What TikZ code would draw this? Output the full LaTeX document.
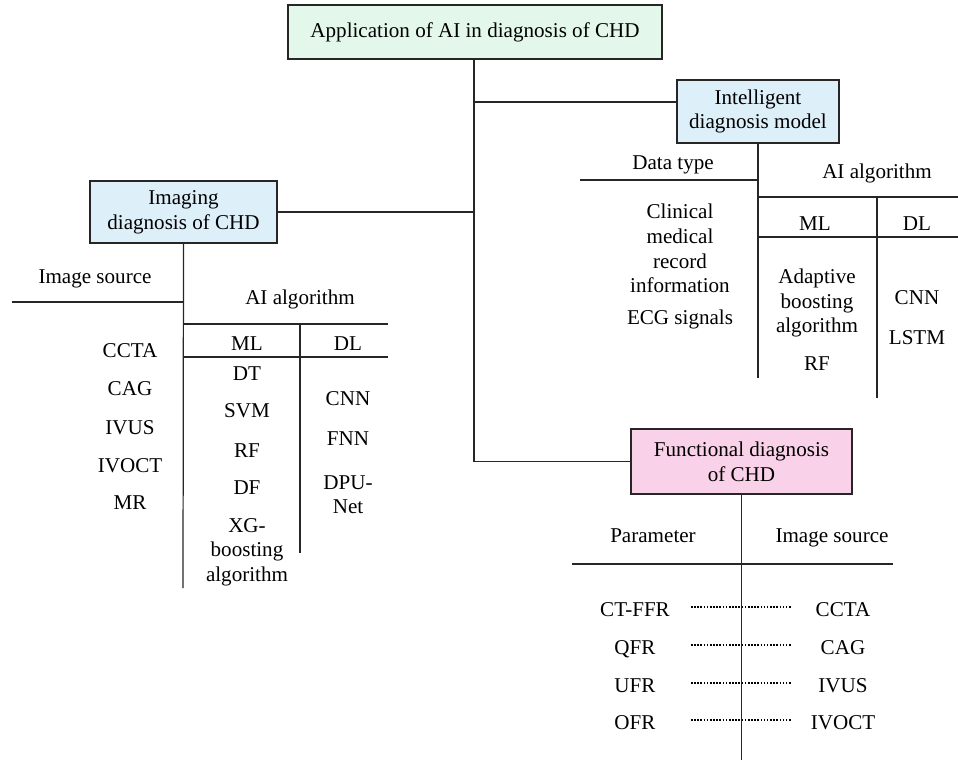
\documentclass[tikz,border=0pt]{standalone}
\usepackage{fontspec}
\setmainfont{Liberation Serif}
\usepackage{tikz}
\definecolor{boxgreen}{HTML}{E3F8EA}
\definecolor{boxblue}{HTML}{DDEFF9}
\definecolor{boxpink}{HTML}{F9D1E8}
\begin{document}
\begin{tikzpicture}[
  x=0.02cm, y=-0.02cm,
  font=\fontsize{12}{14}\selectfont,
  box/.style={draw=black!85, line width=0.7pt, align=center, inner sep=2pt},
  lbl/.style={inner sep=0pt, text height=8pt, text depth=0pt},
  mlbl/.style={inner sep=0pt, align=center},
  ln/.style={draw=black!85, line width=0.7pt},
  dots/.style={line width=1pt, dash pattern=on 0.9pt off 0.9pt}
]
\useasboundingbox (0,0) rectangle (958,761);
% boxes
\node[box, fill=boxgreen, minimum width=7.48cm, minimum height=1.08cm] (app) at (475,32) {Application of AI in diagnosis of CHD};
\node[box, fill=boxblue, minimum width=3.24cm, minimum height=1.26cm] (intel) at (758,111.5) {Intelligent\\diagnosis model};
\node[box, fill=boxblue, minimum width=3.74cm, minimum height=1.24cm] (img) at (183.5,212) {Imaging\\diagnosis of CHD};
\node[box, fill=boxpink, minimum width=4.42cm, minimum height=1.3cm] (func) at (741.5,461.5) {Functional diagnosis\\of CHD};
% tree
\coordinate (j1) at (474,102);
\draw[ln] (app.south -| j1) |- (func.west);
\draw[ln] (j1) -- (j1 -| intel.west);
\draw[ln] (img.east) -- (img.east -| j1);

% imaging diagnosis
\coordinate (imgend) at (183,588);
\draw[ln] (img.south) -- (imgend);
\node[lbl] (imgsrc) at (95,276) {Image source};
\node[lbl] (imgai) at (300,297) {AI algorithm};
\draw[ln] (12,302) -- (183,302);
\draw[ln] (183,324) -- (388,324);
\draw[ln] (300,324) -- (300,553);
\draw[ln] (183,357) -- (388,357);
\node[lbl] (imgml) at (247,343) {ML};
\node[lbl] (imgdl) at (348,343) {DL};
\foreach \t/\y [count=\i] in {CCTA/350, CAG/388, IVUS/427, IVOCT/465, MR/502}
  \node[lbl] (isrc\i) at (130,\y) {\t};
\foreach \t/\y [count=\i] in {DT/373, SVM/410, RF/450, DF/487}
  \node[lbl] (iml\i) at (247,\y) {\t};
\node[mlbl] (iml5) at (247,552) {XG-\\boosting\\algorithm};
\node[lbl] (idl1) at (348,398) {CNN};
\node[lbl] (idl2) at (348,438) {FNN};
\node[mlbl] (idl3) at (348,494.5) {DPU-\\Net};

% intelligent diagnosis model
\coordinate (intelend) at (758,378);
\draw[ln] (intel.south) -- (intelend);
\node[lbl] (dtype) at (673,162) {Data type};
\node[lbl] (intai) at (877,171) {AI algorithm};
\draw[ln] (580,180) -- (758,180);
\draw[ln] (758,197) -- (958,197);
\draw[ln] (877,197) -- (877,398);
\draw[ln] (758,237) -- (958,237);
\node[lbl] (intml) at (815,223) {ML};
\node[lbl] (intdl) at (917,223) {DL};
\node[mlbl] (dat1) at (680,248.5) {Clinical\\medical\\record\\information};
\node[lbl] (dat2) at (680,317) {ECG signals};
\node[mlbl] (tml1) at (817,303) {Adaptive\\boosting\\algorithm};
\node[lbl] (tml2) at (817,363) {RF};
\node[lbl] (tdl1) at (917,297) {CNN};
\node[lbl] (tdl2) at (917,337) {LSTM};

% functional diagnosis
\coordinate (funcend) at (741.5,760);
\draw[ln] (func.south) -- (funcend);
\node[lbl] (param) at (653,535) {Parameter};
\node[lbl] (fsrc) at (832,535) {Image source};
\draw[ln] (572,564) -- (893,564);
\foreach \p/\s/\y [count=\i] in {CT-FFR/CCTA/609, QFR/CAG/647, UFR/IVUS/685, OFR/IVOCT/722}{
  \node[lbl] (par\i) at (635,\y) {\p};
  \node[lbl] (src\i) at (843,\y) {\s};
  \draw[dots] (691,{\y-2}) -- (791,{\y-2});
}
\end{tikzpicture}
\end{document}
